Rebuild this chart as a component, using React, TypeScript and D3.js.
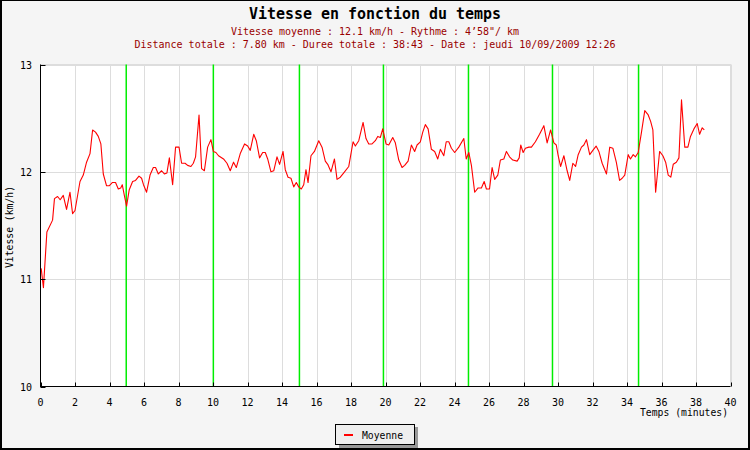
import React from 'react';
import * as d3 from 'd3';

const TITLE = 'Vitesse en fonction du temps';
const SUBTITLE1 = 'Vitesse moyenne : 12.1 km/h - Rythme : 4\u201958"/ km';
const SUBTITLE2 = 'Distance totale : 7.80 km - Duree totale : 38:43 - Date : jeudi 10/09/2009 12:26';
const Y_LABEL = 'Vitesse (km/h)';
const X_LABEL = 'Temps (minutes)';
const LEGEND_LABEL = 'Moyenne';

const X_TICKS = [0, 2, 4, 6, 8, 10, 12, 14, 16, 18, 20, 22, 24, 26, 28, 30, 32, 34, 36, 38, 40];
const Y_TICKS = [10, 11, 12, 13];
const KM_MARKS = [4.97, 10.02, 15.01, 19.88, 24.81, 29.68, 34.67];

const TIMES = [
  0.04, 0.17, 0.37, 0.70, 0.81, 0.99, 1.14, 1.32, 1.51, 1.71, 1.86, 2.00, 2.29, 2.48, 2.67, 2.87, 3.02, 3.19, 3.35, 3.50,
  3.64, 3.83, 3.98, 4.16, 4.35, 4.51, 4.65, 4.74, 4.86, 4.99, 5.14, 5.34, 5.51, 5.71, 5.86, 5.97, 6.15, 6.35, 6.54, 6.67,
  6.83, 7.02, 7.18, 7.33, 7.47, 7.66, 7.83, 8.03, 8.18, 8.38, 8.53, 8.72, 8.86, 8.99, 9.19, 9.34, 9.50, 9.69, 9.88, 10.02,
  10.17, 10.32, 10.61, 10.81, 11.00, 11.19, 11.35, 11.58, 11.83, 12.01, 12.16, 12.36, 12.51, 12.70, 12.88, 13.03, 13.17, 13.36, 13.52, 13.71,
  13.86, 14.06, 14.19, 14.35, 14.52, 14.68, 14.83, 14.97, 15.12, 15.26, 15.39, 15.51, 15.68, 15.88, 16.13, 16.32, 16.51, 16.65, 16.84, 17.04,
  17.19, 17.38, 17.58, 17.87, 18.12, 18.25, 18.45, 18.70, 18.87, 19.03, 19.22, 19.41, 19.55, 19.70, 19.84, 20.03, 20.19, 20.42, 20.57, 20.77,
  20.96, 21.11, 21.31, 21.50, 21.69, 21.83, 22.02, 22.16, 22.31, 22.47, 22.66, 22.85, 23.03, 23.18, 23.38, 23.52, 23.67, 23.82, 24.01, 24.25,
  24.54, 24.68, 24.83, 24.98, 25.17, 25.37, 25.56, 25.72, 25.85, 26.03, 26.18, 26.33, 26.51, 26.66, 26.86, 27.01, 27.19, 27.38, 27.63, 27.75,
  27.84, 27.98, 28.11, 28.31, 28.46, 28.69, 28.93, 29.18, 29.37, 29.57, 29.76, 29.90, 30.01, 30.15, 30.34, 30.53, 30.68, 30.86, 31.02, 31.17,
  31.36, 31.50, 31.65, 31.84, 32.02, 32.21, 32.37, 32.56, 32.81, 33.00, 33.18, 33.38, 33.57, 33.72, 33.87, 34.07, 34.20, 34.36, 34.49, 34.65,
  34.84, 35.03, 35.23, 35.37, 35.50, 35.66, 35.89, 36.08, 36.24, 36.39, 36.54, 36.68, 36.86, 37.01, 37.16, 37.35, 37.53, 37.68, 37.88, 38.07,
  38.21, 38.36, 38.48,
];

const SPEEDS = [
  11.10, 10.92, 11.44, 11.55, 11.75, 11.77, 11.74, 11.78, 11.65, 11.81, 11.61, 11.64, 11.91, 11.97, 12.09, 12.17, 12.39, 12.37, 12.33, 12.26,
  11.98, 11.87, 11.87, 11.90, 11.90, 11.84, 11.85, 11.88, 11.78, 11.68, 11.83, 11.91, 11.92, 11.96, 11.94, 11.88, 11.81, 11.97, 12.04, 12.04,
  11.98, 12.01, 11.98, 11.99, 12.13, 11.88, 12.23, 12.23, 12.08, 12.08, 12.06, 12.05, 12.08, 12.14, 12.53, 12.03, 12.01, 12.23, 12.30, 12.19,
  12.18, 12.15, 12.12, 12.08, 12.01, 12.09, 12.04, 12.17, 12.26, 12.24, 12.20, 12.35, 12.29, 12.13, 12.18, 12.18, 12.12, 12.00, 12.01, 12.14,
  12.07, 12.19, 12.02, 11.95, 11.94, 11.86, 11.90, 11.86, 11.84, 11.88, 12.02, 11.90, 12.15, 12.19, 12.29, 12.23, 12.10, 12.07, 12.00, 12.12,
  11.93, 11.95, 11.99, 12.05, 12.28, 12.24, 12.29, 12.46, 12.31, 12.26, 12.26, 12.29, 12.33, 12.32, 12.40, 12.26, 12.25, 12.32, 12.27, 12.11,
  12.04, 12.06, 12.10, 12.25, 12.19, 12.25, 12.28, 12.37, 12.44, 12.40, 12.21, 12.19, 12.12, 12.21, 12.15, 12.28, 12.28, 12.22, 12.18, 12.23,
  12.31, 12.12, 12.18, 12.06, 11.81, 11.85, 11.85, 11.91, 11.84, 11.84, 12.04, 11.93, 11.97, 12.11, 12.12, 12.19, 12.14, 12.11, 12.10, 12.13,
  12.25, 12.18, 12.22, 12.23, 12.23, 12.28, 12.35, 12.43, 12.27, 12.39, 12.27, 12.25, 12.15, 12.05, 12.15, 12.01, 11.92, 12.08, 12.05, 12.16,
  12.23, 12.25, 12.30, 12.16, 12.20, 12.24, 12.19, 12.08, 11.98, 12.23, 12.22, 12.09, 11.92, 11.94, 11.97, 12.16, 12.12, 12.16, 12.14, 12.18,
  12.37, 12.57, 12.53, 12.47, 12.39, 11.81, 12.19, 12.15, 12.09, 11.97, 11.95, 12.07, 12.09, 12.13, 12.67, 12.23, 12.23, 12.33, 12.40, 12.45,
  12.35, 12.41, 12.39,
];

const W = 750;
const H = 450;
const PLOT = { left: 40.5, right: 730.5, top: 64.5, bottom: 386.5 };
const FONT = '"DejaVu Sans Mono", "Liberation Mono", monospace';
const SUB_COLOR = '#990000';

export default function App() {
  const x = d3.scaleLinear().domain([0, 40]).range([PLOT.left, PLOT.right]);
  const y = d3.scaleLinear().domain([10, 13]).range([PLOT.bottom, PLOT.top]);
  const data = TIMES.map((t, i) => [t, SPEEDS[i]] as [number, number]);
  const line = d3
    .line<[number, number]>()
    .x((d) => x(d[0]))
    .y((d) => y(d[1]));

  return (
    <svg
      width={W}
      height={H}
      style={{ position: 'absolute', left: 0, top: 0, display: 'block' }}
      fontFamily={FONT}
    >
      <rect x={0} y={0} width={W} height={H} fill="#f5f5f5" />
      {/* frame */}
      <line x1={0} y1={0.5} x2={W} y2={0.5} stroke="#000" strokeWidth={1} />
      <line x1={1} y1={0} x2={1} y2={H} stroke="#000" strokeWidth={2} />
      <line x1={W - 1} y1={0} x2={W - 1} y2={H} stroke="#000" strokeWidth={2} />
      <line x1={0} y1={H - 1} x2={W} y2={H - 1} stroke="#000" strokeWidth={2} />

      {/* titles */}
      <text
        x={375}
        y={19}
        textAnchor="middle"
        fontSize={15}
        fontWeight="bold"
        fill="#000"
        textLength={252}
        lengthAdjust="spacingAndGlyphs"
      >
        {TITLE}
      </text>
      <text x={375} y={35} textAnchor="middle" fontSize={10} fill={SUB_COLOR} textLength={288} lengthAdjust="spacingAndGlyphs">
        {SUBTITLE1}
      </text>
      <text x={375} y={48} textAnchor="middle" fontSize={10} fill={SUB_COLOR} textLength={481} lengthAdjust="spacingAndGlyphs">
        {SUBTITLE2}
      </text>

      {/* plot area */}
      <rect x={PLOT.left} y={PLOT.top} width={PLOT.right - PLOT.left} height={PLOT.bottom - PLOT.top} fill="#fff" stroke="#dddddd" />

      {/* grid */}
      {X_TICKS.filter((t) => t > 0).map((t) => (
        <line key={'gx' + t} x1={Math.round(x(t)) + 0.5} x2={Math.round(x(t)) + 0.5} y1={PLOT.top} y2={PLOT.bottom} stroke="#dddddd" />
      ))}
      {Y_TICKS.filter((v) => v > 10).map((v) => (
        <line key={'gy' + v} x1={PLOT.left} x2={PLOT.right} y1={Math.round(y(v)) + 0.5} y2={Math.round(y(v)) + 0.5} stroke="#dddddd" />
      ))}

      {/* km marks */}
      {KM_MARKS.map((t, i) => (
        <line key={'km' + i} x1={x(t)} x2={x(t)} y1={PLOT.top} y2={PLOT.bottom} stroke="#00ee00" strokeWidth={1.5} />
      ))}

      {/* data line */}
      <path d={line(data) || ''} fill="none" stroke="#ff0000" strokeWidth={1.1} strokeLinejoin="round" />

      {/* axes */}
      <line x1={PLOT.left} x2={PLOT.left} y1={PLOT.top} y2={PLOT.bottom + 0.5} stroke="#000" />
      <line x1={PLOT.left} x2={PLOT.right} y1={PLOT.bottom} y2={PLOT.bottom} stroke="#000" />
      {Y_TICKS.map((v) => (
        <g key={'yt' + v}>
          <line x1={PLOT.left} x2={PLOT.left + 5} y1={Math.round(y(v)) + 0.5} y2={Math.round(y(v)) + 0.5} stroke="#000" />
          <text x={32} y={y(v) + 4} textAnchor="end" fontSize={10} fill="#000">
            {v}
          </text>
        </g>
      ))}
      {X_TICKS.map((t) => (
        <g key={'xt' + t}>
          <line x1={Math.round(x(t)) + 0.5} x2={Math.round(x(t)) + 0.5} y1={PLOT.bottom - 4} y2={PLOT.bottom} stroke="#000" />
          <text x={x(t)} y={406} textAnchor="middle" fontSize={10} fill="#000">
            {t}
          </text>
        </g>
      ))}
      <text x={728} y={416} textAnchor="end" fontSize={10} fill="#000" textLength={88} lengthAdjust="spacingAndGlyphs">
        {X_LABEL}
      </text>
      <text
        transform={`translate(13, 227) rotate(-90)`}
        textAnchor="middle"
        fontSize={10}
        fill="#000"
        textLength={82}
        lengthAdjust="spacingAndGlyphs"
      >
        {Y_LABEL}
      </text>

      {/* legend */}
      <rect x={339} y={427} width={79} height={21} fill="#999999" />
      <rect x={335.5} y={424.5} width={79} height={20} fill="#eeeeee" stroke="#000" />
      <line x1={344} x2={353} y1={435} y2={435} stroke="#ff0000" strokeWidth={2} />
      <text x={362} y={439} fontSize={10} fill="#000" textLength={41} lengthAdjust="spacingAndGlyphs">
        {LEGEND_LABEL}
      </text>
    </svg>
  );
}
